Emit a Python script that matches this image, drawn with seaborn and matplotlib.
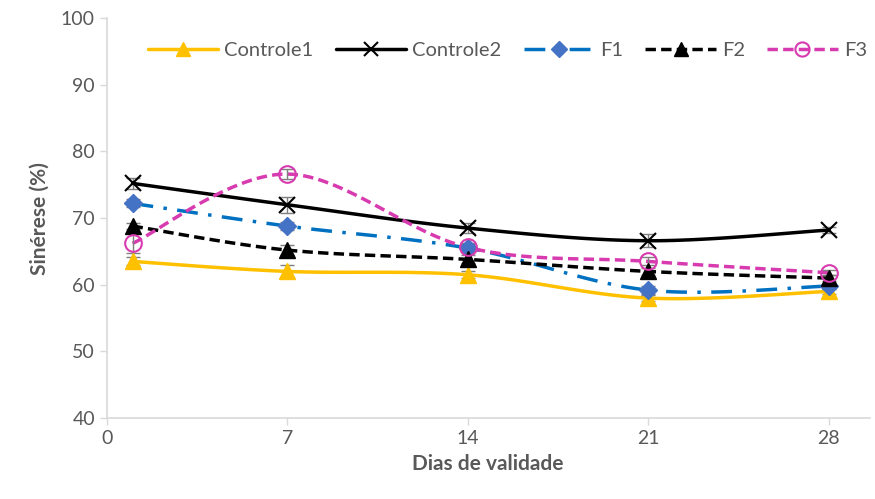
import numpy as np
import pandas as pd
import matplotlib
matplotlib.use("Agg")
import matplotlib.pyplot as plt
import seaborn as sns
from matplotlib.lines import Line2D

days = [1, 7, 14, 21, 28]
controle1 = [63.5, 62.0, 61.5, 58.0, 59.0]
controle2 = [75.2, 72.0, 68.5, 66.6, 68.2]
f1 = [72.2, 68.8, 65.5, 59.2, 59.8]
f2 = [68.8, 65.2, 63.8, 62.0, 61.0]
f3 = [66.2, 76.6, 65.6, 63.5, 61.8]
err_c1 = [0.6, 1.0, 0.5, 0.5, 0.4]
err_c2 = [0.8, 1.2, 0.8, 1.0, 0.4]
err_f1 = [0.6, 0.6, 0.6, 0.6, 0.4]
err_f2 = [0.5, 0.8, 0.6, 0.5, 0.4]
err_f3 = [1.5, 0.8, 0.6, 0.6, 0.4]
xticks = [0, 7, 14, 21, 28]
yticks = [40, 50, 60, 70, 80, 90, 100]

series = [
    ("Controle1", controle1, err_c1, dict(color="#FFC000", ls="-", marker="^", mfc="#FFC000", mec="#FFC000", ms=12, lw=2.5)),
    ("Controle2", controle2, err_c2, dict(color="black", ls="-", marker="x", mfc="black", mec="black", ms=12, lw=2.5, mew=1.5)),
    ("F1", f1, err_f1, dict(color="#0070C0", ls=(0, (6, 3, 1, 3)), marker="D", mfc="#4472C4", mec="#4472C4", ms=9, lw=2.5)),
    ("F2", f2, err_f2, dict(color="black", ls=(0, (3, 1.5)), marker="^", mfc="black", mec="black", ms=12, lw=2.5)),
    ("F3", f3, err_f3, dict(color="#D83BB0", ls=(0, (3, 1.5)), marker="o", mfc="none", mec="#D83BB0", ms=12, lw=2.5, mew=1.5)),
]


def smooth(x, y, n=30):
    x = np.asarray(x, float)
    y = np.asarray(y, float)
    P = np.column_stack([x, y])
    pts = []
    for i in range(len(P) - 1):
        p0 = P[i - 1] if i > 0 else P[i]
        p1 = P[i]
        p2 = P[i + 1]
        p3 = P[i + 2] if i + 2 < len(P) else P[i + 1]
        c1 = p1 + (p2 - p0) / 6.0
        c2 = p2 - (p3 - p1) / 6.0
        t = np.linspace(0, 1, n)[:, None]
        b = ((1 - t) ** 3) * p1 + 3 * ((1 - t) ** 2) * t * c1 + 3 * (1 - t) * t ** 2 * c2 + t ** 3 * p2
        pts.append(b if i == 0 else b[1:])
    B = np.vstack(pts)
    return B[:, 0], B[:, 1]


sns.set_theme(style="white")
plt.rcParams["font.family"] = ["Lato", "DejaVu Sans"]

fig = plt.figure(figsize=(8.75, 4.99), dpi=100)
ax = fig.add_axes([0.122, 0.162, 0.872, 0.802])

handles = []
for name, vals, err, st in series:
    sx, sy = smooth(days, vals)
    sns.lineplot(x=sx, y=sy, ax=ax, color=st["color"], linestyle=st["ls"], linewidth=st["lw"], sort=False, zorder=2)
    ax.errorbar(days, vals, yerr=err, fmt="none", ecolor="#7f7f7f", elinewidth=1, capsize=5, capthick=1, zorder=3)
    ax.plot(days, vals, linestyle="none", marker=st["marker"], markersize=st["ms"],
            markerfacecolor=st["mfc"], markeredgecolor=st["mec"], markeredgewidth=st.get("mew", 1), zorder=4)
    handles.append(Line2D([0], [0], color=st["color"], linestyle=st["ls"], linewidth=st["lw"],
                          marker=st["marker"], markersize=st["ms"] * 0.85, markerfacecolor=st["mfc"],
                          markeredgecolor=st["mec"], markeredgewidth=st.get("mew", 1)))

ax.set_xlim(0, 29.6)
ax.set_ylim(40, 100)
ax.set_xticks(xticks)
ax.set_yticks(yticks)
ax.tick_params(axis="both", labelsize=14, colors="#595959", length=5, width=1, direction="out",
               bottom=True, left=True, color="#d9d9d9")
for s in ["top", "right"]:
    ax.spines[s].set_visible(False)
for s in ["left", "bottom"]:
    ax.spines[s].set_color("#d9d9d9")
    ax.spines[s].set_linewidth(1.2)

ax.set_xlabel("Dias de validade", fontsize=15, fontweight="bold", color="#595959", labelpad=5)
ax.set_ylabel("Sinérese (%)", fontsize=15, fontweight="bold", color="#595959", labelpad=8)

leg = ax.legend(handles, [s[0] for s in series], loc="upper center", bbox_to_anchor=(0.525, 0.985),
                ncol=5, frameon=False, fontsize=14.5, handlelength=3.5, columnspacing=1.1, handletextpad=0.3)
for t in leg.get_texts():
    t.set_color("#595959")

fig.savefig("out.png", dpi=100)
